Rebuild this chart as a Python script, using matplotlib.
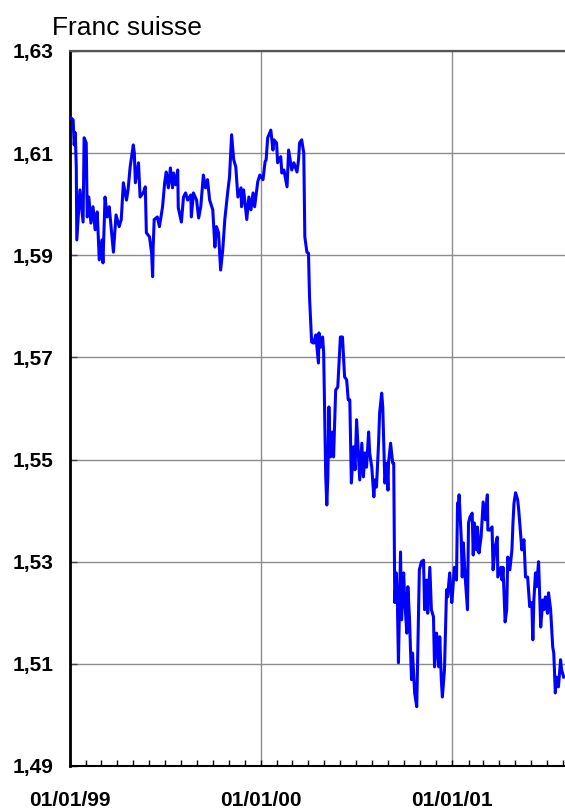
import numpy as np
import pandas as pd
import matplotlib
matplotlib.use("Agg")
import matplotlib.pyplot as plt
import matplotlib.dates as mdates
from matplotlib.ticker import FixedLocator, FuncFormatter

plt.rcParams['font.family'] = ['Liberation Sans', 'DejaVu Sans']

# jours depuis le 01/01/99 et cours EUR/CHF
jours = [2, 6, 8, 10, 12, 13, 17, 19, 25, 27, 31, 33, 36, 40, 44, 48, 52, 56, 61, 63,
         67, 71, 75, 83, 88, 94, 98, 102, 108, 111, 115, 121, 123, 125, 131, 134, 140, 144, 146, 152,
         156, 158, 159, 161, 167, 171, 177, 181, 184, 188, 192, 196, 198, 202, 206, 207, 213, 217, 221, 225,
         231, 232, 236, 242, 246, 250, 255, 259, 263, 267, 273, 277, 280, 284, 288, 292, 296, 302, 305, 309,
         313, 317, 321, 327, 328, 332, 338, 342, 346, 350, 353, 359, 363,
         369, 373, 375, 378, 384, 388, 390, 395, 397, 403, 405, 409, 415, 418, 424, 428, 434, 437, 439, 443,
         447, 449, 453, 456, 458, 462, 466, 470, 475, 476, 479, 483, 485, 489, 491, 493, 495, 498, 502, 504,
         508, 512, 517, 521, 525, 529, 532, 535, 538, 542, 545, 548, 550, 554, 558, 561, 564, 567, 571, 573,
         577, 581, 583, 586, 590, 592, 596, 598, 602, 606, 608, 609, 613, 617, 619, 621, 624, 626, 628, 632,
         634, 638, 640, 644, 646, 649, 653, 655, 659, 663, 665, 668, 672, 676, 678, 682, 684, 688, 691, 695,
         697, 701, 705, 707, 710, 712, 716, 720, 722, 726, 730, 731,
         735, 739, 741, 742, 744, 748, 750, 752, 756, 760, 762, 765, 769, 771, 773, 777, 779, 782, 786, 790,
         794, 798, 799, 803, 807, 809, 813, 817, 818, 824, 826, 828, 832, 835, 837, 841, 845, 847, 849, 852,
         856, 858, 862, 864, 868, 871, 875, 879, 883, 885, 887, 890, 892, 896, 900, 904, 906, 909, 913, 915,
         919, 923, 925, 928, 930, 934, 938, 940, 944]
cours = [1.6169, 1.6165, 1.6116, 1.6140, 1.6073, 1.5930, 1.5995, 1.6028, 1.5965, 1.6130,
         1.6120, 1.5975, 1.6014, 1.5963, 1.5995, 1.5950, 1.5985, 1.5891, 1.5930, 1.5885,
         1.6014, 1.5975, 1.5995, 1.5906, 1.5979, 1.5956, 1.5970, 1.6042, 1.6008, 1.6028,
         1.6073, 1.6116, 1.6100, 1.6042, 1.6081, 1.6014, 1.6022, 1.6034, 1.5944, 1.5936,
         1.5905, 1.5858, 1.5916, 1.5970, 1.5975, 1.5956, 1.5995, 1.6042, 1.6063, 1.6032,
         1.6071, 1.6032, 1.6061, 1.6038, 1.6067, 1.5993, 1.5965, 1.6014, 1.6022, 1.6008,
         1.6018, 1.5975, 1.6022, 1.6008, 1.5973, 1.5995, 1.6057, 1.6032, 1.6048, 1.6008,
         1.5989, 1.5916, 1.5956, 1.5944, 1.5871, 1.5910, 1.5970, 1.6028, 1.6053, 1.6136,
         1.6087, 1.6073, 1.6014, 1.6032, 1.5995, 1.6028, 1.5970, 1.6014, 1.5989, 1.6022,
         1.5995, 1.6044, 1.6057,
         1.6048, 1.6083, 1.6087, 1.6130, 1.6145, 1.6106, 1.6126, 1.6120, 1.6081, 1.6093,
         1.6061, 1.6067, 1.6034, 1.6106, 1.6067, 1.6081, 1.6063, 1.6087, 1.6120, 1.6126,
         1.6100, 1.5936, 1.5906, 1.5904, 1.5818, 1.5730, 1.5728, 1.5744, 1.5689, 1.5748,
         1.5720, 1.5740, 1.5709, 1.5466, 1.5411, 1.5466, 1.5603, 1.5505, 1.5554, 1.5505,
         1.5636, 1.5642, 1.5740, 1.5740, 1.5662, 1.5656, 1.5617, 1.5617, 1.5454, 1.5525,
         1.5480, 1.5578, 1.5538, 1.5460, 1.5532, 1.5466, 1.5513, 1.5485, 1.5554, 1.5513,
         1.5485, 1.5427, 1.5460, 1.5446, 1.5532, 1.5591, 1.5630, 1.5603, 1.5454, 1.5493,
         1.5440, 1.5493, 1.5532, 1.5493, 1.5493, 1.5220, 1.5278, 1.5220, 1.5102, 1.5319,
         1.5186, 1.5278, 1.5225, 1.5160, 1.5251, 1.5192, 1.5069, 1.5121, 1.5043, 1.5016,
         1.5121, 1.5284, 1.5300, 1.5303, 1.5206, 1.5264, 1.5199, 1.5289, 1.5206, 1.5192,
         1.5094, 1.5160, 1.5094, 1.5153, 1.5069, 1.5035, 1.5088, 1.5245, 1.5231, 1.5278,
         1.5220, 1.5231,
         1.5289, 1.5264, 1.5415, 1.5388, 1.5431, 1.5348, 1.5270, 1.5337, 1.5264, 1.5206,
         1.5376, 1.5388, 1.5395, 1.5313, 1.5376, 1.5323, 1.5368, 1.5317, 1.5348, 1.5417,
         1.5382, 1.5431, 1.5362, 1.5362, 1.5368, 1.5284, 1.5330, 1.5348, 1.5270, 1.5289,
         1.5264, 1.5289, 1.5182, 1.5206, 1.5309, 1.5284, 1.5323, 1.5376, 1.5415, 1.5435,
         1.5421, 1.5401, 1.5348, 1.5323, 1.5343, 1.5270, 1.5270, 1.5212, 1.5220, 1.5147,
         1.5225, 1.5278, 1.5251, 1.5300, 1.5172, 1.5225, 1.5206, 1.5231, 1.5199, 1.5239,
         1.5206, 1.5133, 1.5121, 1.5043, 1.5074, 1.5055, 1.5108, 1.5088, 1.5074]

y_ticks = [1.49, 1.51, 1.53, 1.55, 1.57, 1.59, 1.61, 1.63]
titre = "Franc suisse"

dates = pd.Timestamp("1999-01-01") + pd.to_timedelta(jours, unit="D")

fig = plt.figure(figsize=(5.65, 8.09), dpi=100)
ax = fig.add_axes([0.1239, 0.0532, 0.8775, 0.8838])

ax.plot(dates, cours, color="#0000FF", linewidth=2.2, zorder=3)

ax.set_xlim(pd.Timestamp("1999-01-01"), pd.Timestamp("2001-08-06"))
ax.set_ylim(1.49, 1.63)

ax.yaxis.set_major_locator(FixedLocator(y_ticks))
ax.yaxis.set_major_formatter(FuncFormatter(lambda v, p: f"{v:.2f}".replace(".", ",")))
ax.xaxis.set_major_locator(mdates.YearLocator())
ax.xaxis.set_major_formatter(mdates.DateFormatter("%d/%m/%y"))
ax.xaxis.set_minor_locator(mdates.MonthLocator())

ax.grid(True, which="major", color="#8c8c8c", linewidth=1.0, zorder=1)
ax.set_axisbelow(True)

ax.tick_params(axis="y", which="major", direction="in", length=5, width=1,
               color="#444444", pad=12, labelsize=15)
ax.tick_params(axis="x", which="both", direction="in", length=4, width=1,
               color="black", pad=18, labelsize=15)
for lab in ax.get_xticklabels() + ax.get_yticklabels():
    lab.set_fontweight("bold")

ax.spines["left"].set_linewidth(2.0)
ax.spines["left"].set_color("black")
ax.spines["bottom"].set_linewidth(1.5)
ax.spines["bottom"].set_color("black")
ax.spines["top"].set_linewidth(1.6)
ax.spines["top"].set_color("#555555")
ax.spines["right"].set_visible(False)

fig.text(0.092, 0.966, titre, fontsize=19, ha="left", va="center")

fig.savefig("out.png", dpi=100)
